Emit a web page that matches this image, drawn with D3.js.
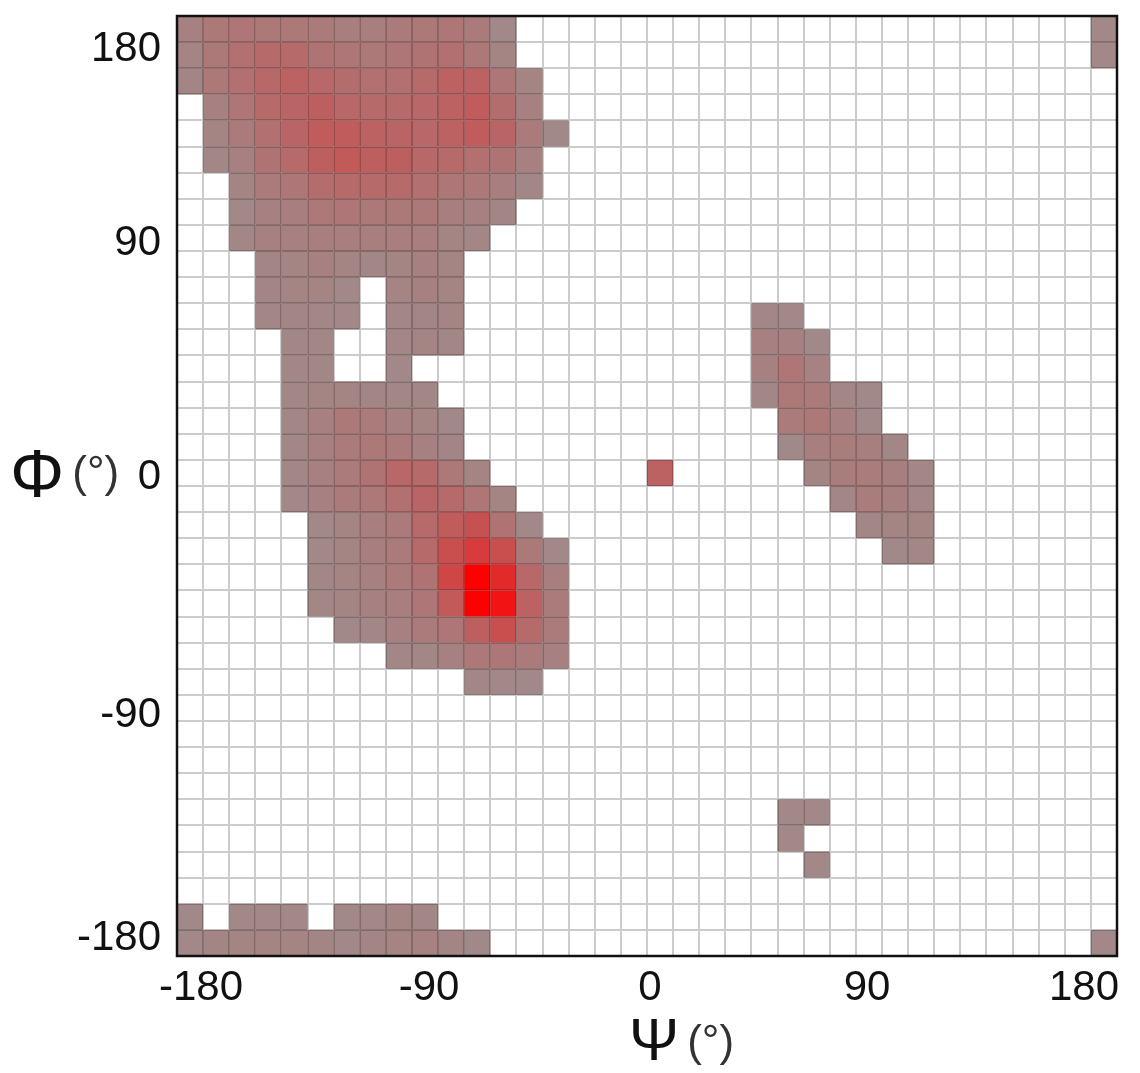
<!DOCTYPE html>
<html>
<head>
<meta charset="utf-8">
<script src="https://cdn.jsdelivr.net/npm/d3@7"></script>
<style>
  body { margin: 0; background: #fff; }
  svg { display: block; }
  text { font-family: "Liberation Sans", Arial, sans-serif; fill: #111; }
</style>
</head>
<body>
<div id="app"></div>
<script>
// tick labels
var psiTicks = [-180, -90, 0, 90, 180];
var phiTicks = [180, 90, 0, -90, -180];
var binSize = 10;

// density runs: [phi bin lower edge, first psi bin lower edge, values of consecutive 10 degree psi bins]
var densityRuns = [
  [170, -180, [8,14,16,14,14,12,10,10,12,14,16,12,3]], [170, 170, [3]],
  [160, -180, [6,14,20,24,24,18,16,14,16,18,20,14,6]], [160, 170, [3]],
  [150, -180, [5,14,20,26,30,26,22,20,20,24,30,30,16,6]],
  [140, -170, [8,16,24,28,32,26,24,24,26,30,34,22,8]],
  [130, -170, [6,12,20,28,34,34,30,28,26,30,34,28,12,2]],
  [120, -170, [4,8,18,24,32,36,32,32,26,24,20,18,8]],
  [110, -160, [6,12,16,22,24,24,24,20,16,14,10,4]],
  [100, -160, [3,8,10,14,16,14,14,14,10,8,5]],
  [90, -160, [4,8,8,10,10,10,10,10,6,4]],
  [80, -150, [5,6,8,6,4,6,8,6]],
  [70, -150, [5,6,6,3]], [70, -100, [6,8,6]],
  [60, -150, [4,5,4,3]], [60, -100, [4,5,6]], [60, 40, [4,3]],
  [50, -140, [4,4]], [50, -100, [4,6,4]], [50, 40, [8,8,2]],
  [40, -140, [4,4]], [40, -100, [3]], [40, 40, [8,16,7]],
  [30, -140, [4,6,6,5,4,4]], [30, 40, [4,14,12,4,2]],
  [20, -140, [4,8,14,12,8,6,3]], [20, 50, [12,14,8,2]],
  [10, -140, [4,8,12,14,12,8,5]], [10, 50, [2,9,11,9,4]],
  [0, -140, [4,8,12,18,26,24,14,6]], [0, 0, [30]], [0, 60, [6,11,11,9,4]],
  [-10, -140, [3,8,12,14,20,28,24,16,6]], [-10, 70, [4,11,9,4]],
  [-20, -130, [3,6,10,12,24,34,42,18,3]], [-20, 80, [4,6,6]],
  [-30, -130, [3,6,10,12,24,44,58,44,14,3]], [-30, 90, [2,4]],
  [-40, -130, [4,6,8,12,18,50,100,70,26,10]],
  [-50, -130, [4,6,8,10,16,36,100,86,30,12]],
  [-60, -120, [3,4,8,12,16,32,44,24,12]],
  [-70, -100, [4,4,8,14,16,12,8]],
  [-80, -70, [4,3,3]],
  [-130, 50, [3,3]],
  [-140, 50, [3]],
  [-150, 60, [3]],
  [-170, -180, [2]], [-170, -160, [3,3,3]], [-170, -120, [3,3,6,4]],
  [-180, -180, [3,5,6,6,6,5,3,5,6,7,5,2]], [-180, 170, [3]]
];

var svgWidth = 1140, svgHeight = 1073;
var plotLeft = 177, plotRight = 1117, plotTop = 16, plotBottom = 956;

var svg = d3.select('#app')
  .append('svg')
    .attr('width', svgWidth)
    .attr('height', svgHeight);

var x = d3.scaleLinear().domain([-180, 180]).range([plotLeft, plotRight]);
var y = d3.scaleLinear().domain([-180, 180]).range([plotBottom, plotTop]);
var color = d3.scaleLinear()
    .domain([0, 100])
    .range(['#9f8c8c', '#ff0000'])
    .interpolate(d3.interpolateRgb);

// where the tick labels sit (hand placed in the original figure)
var psiLabelX = d3.scaleLinear().domain(psiTicks).range([201, 429, 650, 867, 1084]);
var phiLabelY = d3.scaleLinear().domain(phiTicks).range([46, 240, 474, 712, 935]);

var cells = [];
densityRuns.forEach(function(r) {
  r[2].forEach(function(v, i) {
    cells.push({phi: r[0], psi: r[1] + i * binSize, v: v});
  });
});

svg.append('g')
    .attr('class', 'cells')
  .selectAll('rect')
    .data(cells)
  .enter().append('rect')
    .attr('x', function(d) { return x(d.psi); })
    .attr('y', function(d) { return y(d.phi + binSize); })
    .attr('width', x(binSize) - x(0))
    .attr('height', y(0) - y(binSize))
    .attr('fill', function(d) { return color(d.v); });

// grid lines on top, multiplied onto whatever is below
var gridVals = d3.range(-180 + binSize, 180, binSize);
var grid = svg.append('g')
    .attr('class', 'grid')
    .attr('stroke', '#cccccc')
    .attr('stroke-width', 2)
    .style('mix-blend-mode', 'multiply');

grid.selectAll('line.v')
    .data(gridVals)
  .enter().append('line')
    .attr('class', 'v')
    .attr('x1', function(d) { return Math.round(x(d)); })
    .attr('x2', function(d) { return Math.round(x(d)); })
    .attr('y1', plotTop)
    .attr('y2', plotBottom);

grid.selectAll('line.h')
    .data(gridVals)
  .enter().append('line')
    .attr('class', 'h')
    .attr('y1', function(d) { return Math.round(y(d)); })
    .attr('y2', function(d) { return Math.round(y(d)); })
    .attr('x1', plotLeft)
    .attr('x2', plotRight);

svg.append('rect')
    .attr('x', plotLeft)
    .attr('y', plotTop)
    .attr('width', plotRight - plotLeft)
    .attr('height', plotBottom - plotTop)
    .attr('fill', 'none')
    .attr('stroke', '#111')
    .attr('stroke-width', 2.5);

// tick labels
svg.append('g')
  .selectAll('text')
    .data(psiTicks)
  .enter().append('text')
    .attr('x', function(d) { return psiLabelX(d); })
    .attr('y', 1000)
    .attr('text-anchor', 'middle')
    .attr('font-size', 42)
    .text(function(d) { return d; });

svg.append('g')
  .selectAll('text')
    .data(phiTicks)
  .enter().append('text')
    .attr('x', 161)
    .attr('y', function(d) { return phiLabelY(d); })
    .attr('dy', '0.35em')
    .attr('text-anchor', 'end')
    .attr('font-size', 42)
    .text(function(d) { return d; });

// axis titles
var yTitle = svg.append('text')
    .attr('x', 10)
    .attr('y', 497);
yTitle.append('tspan').attr('font-size', 68).text('\u03A6');
yTitle.append('tspan').attr('font-size', 44).attr('dx', 8).attr('dy', -10).attr('fill', '#333').text('(\u00B0)');

var xTitle = svg.append('text')
    .attr('x', 629)
    .attr('y', 1060);
xTitle.append('tspan').attr('font-size', 60).text('\u03A8');
xTitle.append('tspan').attr('font-size', 44).attr('dx', 8).attr('dy', -4).attr('fill', '#333').text('(\u00B0)');
</script>
</body>
</html>
